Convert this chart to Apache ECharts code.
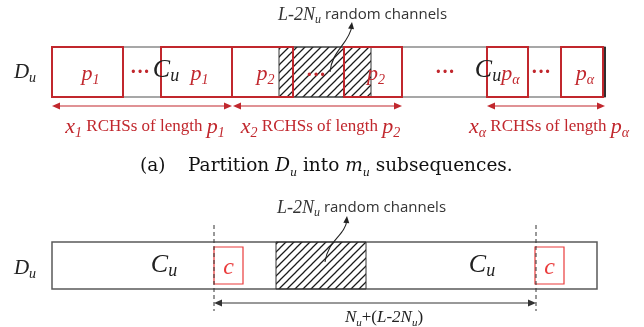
<!DOCTYPE html>
<html>
<head>
<meta charset="utf-8">
<script src="https://cdn.jsdelivr.net/npm/echarts@6/dist/echarts.min.js"></script>
<style>
  html, body { margin: 0; padding: 0; background: #fff; }
  #chart { width: 644px; height: 327px; }
</style>
</head>
<body>
<div id="chart"></div>
<script>
// Channel-layout diagram: (a) RCHS partition of D_u, (b) sliding window of length c.
// All geometry is expressed in the frame's own units (x: channel position, y: row position).

const RED = '#c1272d';
const RED_LIGHT = '#ea3b3b';
const INK = '#222222';
const SERIF = "'Liberation Serif', 'DejaVu Serif', serif";
const CAPTION = "'DejaVu Serif', 'Liberation Serif', serif";
const SANS = "'Open Sans', 'Noto Sans', sans-serif";

// Channel strips: [start, end, top, bottom]
const strips = [[52, 605, 47, 97], [52, 597, 242, 289]];
// Random channels (hatched): [start, end, top, bottom]
const hatches = [[279, 371, 47, 97], [276, 366, 242, 289]];
// RCHS blocks of part (a): [start, end]
const rchsBlocks = [[52, 123], [161, 232], [232, 293], [344, 402], [487, 528], [561, 603]];
const rchsSubs = ['1', '1', '2', '2', 'α', 'α'];
const rchsRow = [47, 97];
// Blocks of length c in part (b): [start, end]
const cBlocks = [[214, 243], [535, 564]];
const cRow = [247, 284];
// Ellipsis marks between blocks: [x, y]
const ellipses = [[140, 73], [316, 76], [445, 73], [541, 73]];
// Span arrows under part (a): [start, end]
const spanArrows = [[52, 232], [233, 402], [487, 605]];
const spanSubs = ['1', '2', 'α'];
const spanRow = [106, 127];
// Window markers of part (b): [x]
const windowMarks = [214, 536];
const windowMarkRange = [225, 311];
const windowArrowY = 303;
// Curved pointers to the random channels: [x0,y0, cx1,cy1, cx2,cy2, x1,y1]
const pointers = [
  [330, 72, 332, 50, 349, 44, 352, 22],
  [325, 262, 328, 240, 345, 236, 347, 216]
];
// C_u marks: [x, y]
const cuMarks = [[166, 70], [488, 70], [164, 265], [482, 265]];
// D_u row labels: [x, y]
const duMarks = [[25, 72], [25, 268]];
// Random-channel notes: [x, y]
const noteMarks = [[278, 15], [277, 208]];

const rich = {
  mi: { fontFamily: SERIF, fontStyle: 'italic', fontSize: 21, lineHeight: 26, fill: INK },
  sb: { fontFamily: SERIF, fontStyle: 'italic', fontSize: 14, lineHeight: 15, verticalAlign: 'bottom', fill: INK },
  cu: { fontFamily: SERIF, fontStyle: 'italic', fontSize: 26, lineHeight: 30, fill: INK },
  cs: { fontFamily: SERIF, fontStyle: 'italic', fontSize: 18, lineHeight: 18, verticalAlign: 'bottom', fill: INK },
  rp: { fontFamily: SERIF, fontStyle: 'italic', fontSize: 22, lineHeight: 26, fill: RED },
  rs: { fontFamily: SERIF, fontStyle: 'italic', fontSize: 14, lineHeight: 15, verticalAlign: 'bottom', fill: RED },
  rt: { fontFamily: SERIF, fontSize: 17, lineHeight: 26, fill: RED },
  ni: { fontFamily: SERIF, fontStyle: 'italic', fontSize: 18, lineHeight: 22, fill: '#333' },
  ns: { fontFamily: SERIF, fontStyle: 'italic', fontSize: 12, lineHeight: 13, verticalAlign: 'bottom', fill: '#333' },
  nt: { fontFamily: SANS, fontSize: 15, lineHeight: 22, fill: '#333' },
  wi: { fontFamily: SERIF, fontStyle: 'italic', fontSize: 17, lineHeight: 22, fill: INK },
  ws: { fontFamily: SERIF, fontStyle: 'italic', fontSize: 11, lineHeight: 12, verticalAlign: 'bottom', fill: INK },
  wt: { fontFamily: SERIF, fontSize: 17, lineHeight: 22, fill: INK },
  cap: { fontFamily: CAPTION, fontSize: 18.5, lineHeight: 26, fill: '#111' },
  capi: { fontFamily: CAPTION, fontStyle: 'italic', fontSize: 18.5, lineHeight: 26, fill: '#111' },
  caps: { fontFamily: CAPTION, fontStyle: 'italic', fontSize: 11, lineHeight: 14, verticalAlign: 'bottom', fill: '#111' },
  cc: { fontFamily: SERIF, fontStyle: 'italic', fontSize: 24, lineHeight: 28, fill: RED_LIGHT },
  dots: { fontFamily: SERIF, fontSize: 20, fontWeight: 'bold', lineHeight: 26, fill: RED }
};

function hatchPattern() {
  const s = 8;
  const c = document.createElement('canvas');
  c.width = s; c.height = s;
  const g = c.getContext('2d');
  g.strokeStyle = '#1b1b1b';
  g.lineWidth = 1.25;
  g.beginPath();
  g.moveTo(-1, s + 1); g.lineTo(s + 1, -1);
  g.moveTo(-1, 1); g.lineTo(1, -1);
  g.moveTo(s - 1, s + 1); g.lineTo(s + 1, s - 1);
  g.stroke();
  return { image: c, repeat: 'repeat' };
}
const HATCH = hatchPattern();

function arrowHead(tip, from, len, half) {
  const dx = tip[0] - from[0], dy = tip[1] - from[1];
  const d = Math.hypot(dx, dy) || 1;
  const ux = dx / d, uy = dy / d;
  const bx = tip[0] - ux * len, by = tip[1] - uy * len;
  return [[tip[0], tip[1]], [bx - uy * half, by + ux * half], [bx + uy * half, by - ux * half]];
}

function rectSeries(rows, styleFn, z) {
  return {
    type: 'custom', coordinateSystem: 'cartesian2d', silent: true, z: z, clip: false,
    data: rows,
    renderItem(params, api) {
      const a = api.coord([api.value(0), api.value(2)]);
      const b = api.coord([api.value(1), api.value(3)]);
      return {
        type: 'rect',
        shape: { x: a[0], y: a[1], width: b[0] - a[0], height: b[1] - a[1] },
        style: styleFn(params.dataIndex)
      };
    }
  };
}

function textSeries(points, textFn, align, z) {
  return {
    type: 'custom', coordinateSystem: 'cartesian2d', silent: true, z: z, clip: false,
    data: points,
    renderItem(params, api) {
      const p = api.coord([api.value(0), api.value(1)]);
      return {
        type: 'text', x: p[0], y: p[1],
        style: { text: textFn(params.dataIndex), rich: rich, align: align, verticalAlign: 'middle' }
      };
    }
  };
}

const series = [
  // channel strips
  rectSeries(strips, i => ({ fill: '#fff', stroke: i === 0 ? '#8a8a8a' : '#5a5a5a', lineWidth: 1.5 }), 1),
  // strip (a) right boundary
  {
    type: 'custom', coordinateSystem: 'cartesian2d', silent: true, z: 2, clip: false,
    data: [[strips[0][1], strips[0][2], strips[0][3]]],
    renderItem(params, api) {
      const a = api.coord([api.value(0), api.value(1)]);
      const b = api.coord([api.value(0), api.value(2)]);
      return { type: 'line', shape: { x1: a[0], y1: a[1], x2: b[0], y2: b[1] }, style: { stroke: '#111', lineWidth: 1.6 } };
    }
  },
  // random channels
  rectSeries(hatches, () => ({ fill: HATCH, stroke: '#333', lineWidth: 1 }), 3),
  // RCHS blocks
  rectSeries(rchsBlocks.map(b => [b[0], b[1], rchsRow[0], rchsRow[1]]),
    () => ({ fill: 'none', stroke: RED, lineWidth: 2 }), 4),
  // blocks of length c
  rectSeries(cBlocks.map(b => [b[0], b[1], cRow[0], cRow[1]]),
    () => ({ fill: 'none', stroke: RED_LIGHT, lineWidth: 1.2 }), 4),
  // window markers
  {
    type: 'custom', coordinateSystem: 'cartesian2d', silent: true, z: 5, clip: false,
    data: windowMarks.map(x => [x, windowMarkRange[0], windowMarkRange[1]]),
    renderItem(params, api) {
      const a = api.coord([api.value(0), api.value(1)]);
      const b = api.coord([api.value(0), api.value(2)]);
      return { type: 'line', shape: { x1: a[0], y1: a[1], x2: b[0], y2: b[1] },
        style: { stroke: '#333', lineWidth: 1, lineDash: [4, 3] } };
    }
  },
  // window span arrow
  {
    type: 'custom', coordinateSystem: 'cartesian2d', silent: true, z: 5, clip: false,
    data: [[windowMarks[0], windowMarks[1], windowArrowY]],
    renderItem(params, api) {
      const a = api.coord([api.value(0), api.value(2)]);
      const b = api.coord([api.value(1), api.value(2)]);
      return { type: 'group', children: [
        { type: 'line', shape: { x1: a[0] + 3, y1: a[1], x2: b[0] - 3, y2: b[1] }, style: { stroke: '#333', lineWidth: 1 } },
        { type: 'polygon', shape: { points: arrowHead(a, b, 8, 3.5) }, style: { fill: '#333' } },
        { type: 'polygon', shape: { points: arrowHead(b, a, 8, 3.5) }, style: { fill: '#333' } }
      ] };
    }
  },
  // RCHS span arrows
  {
    type: 'custom', coordinateSystem: 'cartesian2d', silent: true, z: 5, clip: false,
    data: spanArrows.map(s => [s[0], s[1], spanRow[0]]),
    renderItem(params, api) {
      const a = api.coord([api.value(0), api.value(2)]);
      const b = api.coord([api.value(1), api.value(2)]);
      return { type: 'group', children: [
        { type: 'line', shape: { x1: a[0] + 3, y1: a[1], x2: b[0] - 3, y2: b[1] }, style: { stroke: RED, lineWidth: 1.2 } },
        { type: 'polygon', shape: { points: arrowHead(a, b, 8, 3.5) }, style: { fill: RED } },
        { type: 'polygon', shape: { points: arrowHead(b, a, 8, 3.5) }, style: { fill: RED } }
      ] };
    }
  },
  // curved pointers
  {
    type: 'custom', coordinateSystem: 'cartesian2d', silent: true, z: 6, clip: false,
    data: pointers,
    renderItem(params, api) {
      const p0 = api.coord([api.value(0), api.value(1)]);
      const c1 = api.coord([api.value(2), api.value(3)]);
      const c2 = api.coord([api.value(4), api.value(5)]);
      const p1 = api.coord([api.value(6), api.value(7)]);
      return { type: 'group', children: [
        { type: 'bezierCurve', shape: { x1: p0[0], y1: p0[1], cpx1: c1[0], cpy1: c1[1], cpx2: c2[0], cpy2: c2[1], x2: p1[0], y2: p1[1] + 4 },
          style: { stroke: '#222', lineWidth: 1.1, fill: 'none' } },
        { type: 'polygon', shape: { points: arrowHead(p1, c2, 7, 3) }, style: { fill: '#222' } }
      ] };
    }
  },
  // labels
  textSeries(duMarks, () => '{mi|D}{sb|u}', 'center', 8),
  textSeries(cuMarks, () => '{cu|C}{cs|u}', 'center', 8),
  textSeries(rchsBlocks.map(b => [(b[0] + b[1]) / 2 + 3, 74]), i => '{rp|p}{rs|' + rchsSubs[i] + '}', 'center', 8),
  textSeries(cBlocks.map(b => [(b[0] + b[1]) / 2, 268]), () => '{cc|c}', 'center', 8),
  textSeries(ellipses, () => '{dots|···}', 'center', 8),
  textSeries(spanArrows.map(s => [(s[0] + s[1]) / 2 + 3, spanRow[1]]),
    i => '{rp|x}{rs|' + spanSubs[i] + '}{rt| RCHSs of length }{rp|p}{rs|' + spanSubs[i] + '}', 'center', 8),
  textSeries(noteMarks, () => '{ni|L-2N}{ns|u}{nt| random channels}', 'left', 8),
  textSeries([[384, 318]], () => '{wi|N}{ws|u}{wt|+(}{wi|L-2N}{ws|u}{wt|)}', 'center', 8),
  textSeries([[140, 166]], () => '{cap|(a)}', 'left', 8),
  textSeries([[188, 166]], () => '{cap|Partition }{capi|D}{caps|u}{cap| into }{capi|m}{caps|u}{cap| subsequences.}', 'left', 8)
];

const chart = echarts.init(document.getElementById('chart'), null, { renderer: 'canvas' });
chart.setOption({
  animation: false,
  backgroundColor: '#fff',
  grid: { left: 0, right: 0, top: 0, bottom: 0 },
  xAxis: { type: 'value', min: 0, max: 644, show: false },
  yAxis: { type: 'value', min: 0, max: 327, inverse: true, show: false },
  series: series
});
</script>
</body>
</html>
